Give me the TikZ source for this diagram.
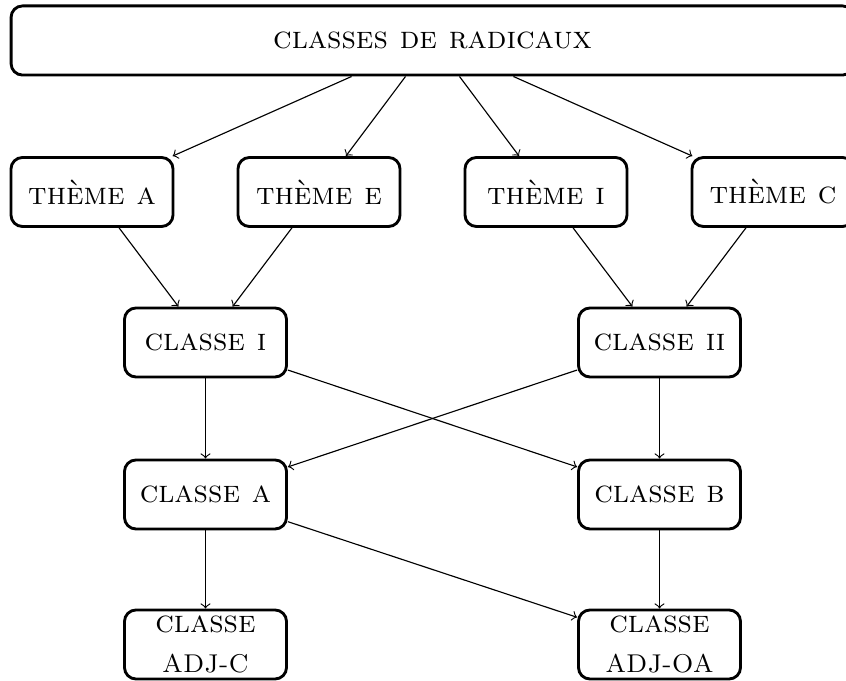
\documentclass[tikz,border=0pt]{standalone}
\begin{document}
\begin{tikzpicture}[x=0.35pt,y=-0.35pt,
  box/.style={draw,line width=1pt,rounded corners=4pt,
    font=\fontsize{11}{14}\selectfont\scshape,align=center,
    minimum width=56.7pt,minimum height=24.15pt,inner sep=1pt},
  arr/.style={->,line width=0.4pt}]
\useasboundingbox (0,0) rectangle (846,681);
\node[box,minimum width=295pt,minimum height=24.2pt] (top) at (432.5,40.5) {classes de radicaux};
\node[box] (ta) at (92,192) {thème a};
\node[box] (te) at (319,192) {thème e};
\node[box] (ti) at (546,192) {thème i};
\node[box] (tc) at (773,192) {thème c};
\node[box] (c1) at (205.5,342.5) {classe i};
\node[box] (c2) at (659.5,342.5) {classe ii};
\node[box] (ca) at (205.5,494.5) {classe a};
\node[box] (cb) at (659.5,494.5) {classe b};
\node[box] (adjc) at (205.5,644.5) {classe\\{\fontsize{9}{14}\selectfont ADJ-C}};
\node[box] (adjoa) at (659.5,644.5) {classe\\{\fontsize{9}{14}\selectfont ADJ-OA}};
\draw[arr] (top) -- (ta);
\draw[arr] (top) -- (te);
\draw[arr] (top) -- (ti);
\draw[arr] (top) -- (tc);
\draw[arr] (ta) -- (c1);
\draw[arr] (te) -- (c1);
\draw[arr] (ti) -- (c2);
\draw[arr] (tc) -- (c2);
\draw[arr] (c1) -- (ca);
\draw[arr] (c1) -- (cb);
\draw[arr] (c2) -- (ca);
\draw[arr] (c2) -- (cb);
\draw[arr] (ca) -- (adjc);
\draw[arr] (ca) -- (adjoa);
\draw[arr] (cb) -- (adjoa);
\end{tikzpicture}
\end{document}
